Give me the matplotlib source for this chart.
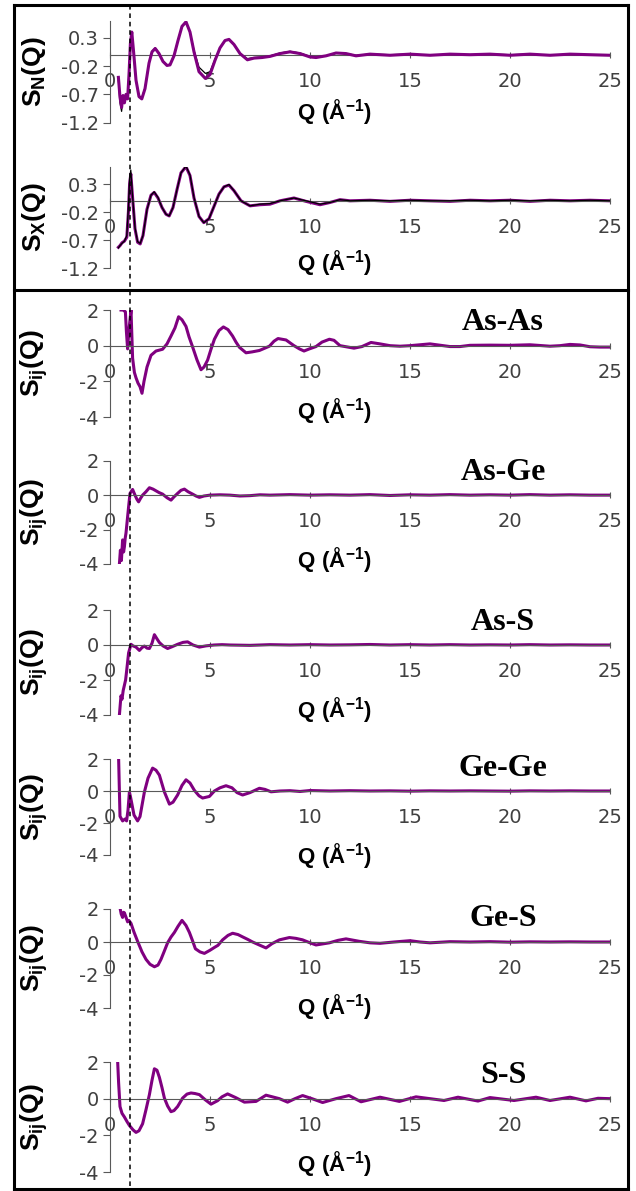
import matplotlib.pyplot as plt
from matplotlib.lines import Line2D

plt.rcParams['mathtext.fontset'] = 'custom'
plt.rcParams['mathtext.rm'] = 'Liberation Sans'
plt.rcParams['mathtext.bf'] = 'Liberation Sans:bold'

# ---------------- data ----------------
# total structure factors (neutron / x-ray): Q, model (purple), experiment (black)
q_sn = [0.42, 0.5, 0.58, 0.65, 0.72, 0.8, 0.88, 0.95, 1.02, 1.09, 1.18, 1.3, 1.45, 1.59, 1.75,
        1.95, 2.1, 2.26, 2.45, 2.65, 2.85, 3.0, 3.2, 3.4, 3.6, 3.8, 4.0, 4.2, 4.45, 4.77, 5.0,
        5.25, 5.5, 5.75, 5.95, 6.2, 6.5, 6.87, 7.2, 7.6, 8.0, 8.5, 9.0, 9.5, 10.0, 10.3, 10.8,
        11.3, 11.8, 12.3, 13.0, 14.0, 15.0, 16.0, 17.0, 18.0, 19.0, 20.0, 21.0, 22.0, 23.0, 24.0, 25.0]
sn_model = [-0.40, -0.75, -0.93, -0.72, -0.85, -0.70, -0.78, -0.35, 0.20, 0.40, 0.05, -0.45, -0.74,
            -0.78, -0.60, -0.15, 0.05, 0.11, 0.02, -0.12, -0.19, -0.18, -0.02, 0.25, 0.50, 0.58, 0.40,
            0.05, -0.30, -0.42, -0.35, -0.10, 0.12, 0.25, 0.27, 0.18, 0.02, -0.09, -0.06, -0.05, -0.03,
            0.02, 0.05, 0.02, -0.04, -0.05, -0.02, 0.03, 0.02, -0.02, 0.01, -0.01, 0.01, -0.01, 0.01,
            0.0, 0.01, -0.01, 0.01, -0.01, 0.01, 0.0, -0.01]
sn_exp = [-0.45, -0.85, -1.0, -0.78, -0.82, -0.72, -0.74, -0.30, 0.22, 0.36, 0.02, -0.45, -0.72,
          -0.76, -0.58, -0.14, 0.06, 0.12, 0.03, -0.11, -0.18, -0.17, -0.01, 0.26, 0.50, 0.57, 0.40,
          0.08, -0.22, -0.33, -0.30, -0.08, 0.12, 0.25, 0.27, 0.18, 0.02, -0.07, -0.05, -0.04, -0.02,
          0.03, 0.06, 0.03, -0.03, -0.04, -0.02, 0.03, 0.02, -0.01, 0.01, 0.0, 0.01, -0.01, 0.01,
          0.0, 0.01, 0.0, 0.01, -0.01, 0.01, 0.0, -0.01]

q_sx = [0.42, 0.5, 0.6, 0.72, 0.84, 0.92, 0.98, 1.04, 1.12, 1.25, 1.38, 1.51, 1.65, 1.85, 2.05,
        2.21, 2.4, 2.6, 2.8, 2.96, 3.15, 3.35, 3.55, 3.8, 4.0, 4.2, 4.45, 4.69, 4.95, 5.2, 5.45,
        5.7, 5.95, 6.2, 6.55, 7.0, 7.5, 8.0, 8.5, 9.2, 9.8, 10.5, 11.0, 11.5, 12.0, 13.0, 14.0,
        15.0, 16.0, 17.0, 18.0, 19.0, 20.0, 21.0, 22.0, 23.0, 24.0, 25.0]
sx_model = [-0.83, -0.80, -0.75, -0.72, -0.65, -0.20, 0.30, 0.48, 0.10, -0.50, -0.74, -0.77, -0.62,
            -0.15, 0.10, 0.15, 0.05, -0.12, -0.24, -0.27, -0.12, 0.20, 0.50, 0.61, 0.45, 0.05,
            -0.28, -0.39, -0.32, -0.10, 0.12, 0.25, 0.28, 0.18, 0.0, -0.09, -0.07, -0.06, 0.0, 0.05,
            -0.01, -0.07, -0.03, 0.02, 0.0, 0.01, -0.01, 0.01, 0.0, -0.01, 0.01, 0.0, 0.01, -0.01,
            0.01, 0.0, 0.01, 0.0]
sx_exp = [-0.84, -0.80, -0.76, -0.72, -0.62, -0.10, 0.40, 0.55, 0.12, -0.48, -0.73, -0.76, -0.62,
          -0.16, 0.10, 0.16, 0.06, -0.12, -0.24, -0.27, -0.12, 0.20, 0.50, 0.62, 0.46, 0.06,
          -0.28, -0.39, -0.32, -0.10, 0.12, 0.25, 0.29, 0.18, 0.0, -0.09, -0.06, -0.05, 0.0, 0.05,
          0.0, -0.06, -0.03, 0.02, 0.0, 0.01, 0.0, 0.01, 0.0, 0.0, 0.01, 0.0, 0.01, 0.0,
          0.01, 0.0, 0.01, 0.0]

# partial structure factors
q_asas = [0.55, 0.65, 0.77, 0.82, 0.88, 0.95, 1.05, 1.13, 1.22, 1.3, 1.4, 1.5, 1.6, 1.7, 1.85,
          2.05, 2.3, 2.63, 2.85, 3.05, 3.25, 3.43, 3.6, 3.8, 3.95, 4.13, 4.35, 4.55, 4.7, 4.88,
          5.05, 5.22, 5.45, 5.67, 5.9, 6.13, 6.3, 6.47, 6.8, 7.1, 7.47, 7.97, 8.2, 8.4, 8.8, 9.2,
          9.47, 9.7, 9.97, 10.3, 10.6, 10.97, 11.2, 11.5, 12.2, 12.6, 13.05, 13.5, 14.0, 14.5,
          15.0, 16.0, 17.0, 17.5, 18.0, 19.0, 20.0, 21.0, 22.0, 22.5, 23.0, 23.5, 24.0, 24.5, 25.0]
s_asas = [2.0, 2.0, 1.9, 0.8, -0.18, 0.9, 2.0, -0.7, -1.5, -1.8, -2.1, -2.3, -2.67, -2.0, -1.2,
          -0.54, -0.3, -0.2, 0.1, 0.54, 1.0, 1.62, 1.45, 1.08, 0.5, -0.07, -0.8, -1.35, -1.2, -0.81,
          -0.2, 0.36, 0.85, 1.05, 0.9, 0.54, 0.2, -0.09, -0.4, -0.35, -0.27, -0.03, 0.25, 0.40, 0.32,
          0.0, -0.18, -0.3, -0.18, -0.05, 0.2, 0.36, 0.3, 0.0, -0.14, -0.05, 0.18, 0.1, 0.0, -0.03,
          0.0, 0.1, -0.05, -0.05, 0.02, 0.03, 0.02, 0.05, -0.03, 0.0, 0.07, 0.04, -0.06, -0.08, -0.08]

q_asge = [0.47, 0.52, 0.57, 0.63, 0.68, 0.72, 0.76, 0.8, 0.86, 0.93, 1.0, 1.13, 1.25, 1.35, 1.43,
          1.52, 1.63, 1.8, 1.97, 2.15, 2.3, 2.45, 2.63, 2.85, 3.05, 3.2, 3.38, 3.55, 3.72, 3.9,
          4.13, 4.3, 4.47, 4.7, 5.0, 5.5, 6.0, 6.5, 7.0, 7.5, 8.0, 9.0, 10.0, 11.0, 12.0, 13.0,
          14.0, 15.0, 16.0, 17.0, 18.0, 19.0, 20.0, 21.0, 22.0, 23.0, 24.0, 25.0]
s_asge = [-4.0, -3.2, -3.8, -2.6, -3.3, -3.0, -2.5, -2.2, -1.5, -0.68, 0.1, 0.33, 0.0, -0.25,
          -0.39, -0.2, 0.0, 0.2, 0.43, 0.35, 0.25, 0.15, 0.06, -0.15, -0.29, -0.1, 0.1, 0.28, 0.35,
          0.2, 0.06, -0.05, -0.13, -0.05, 0.0, 0.02, 0.0, -0.05, -0.03, 0.02, 0.0, 0.03, 0.0, 0.02,
          0.0, 0.03, -0.02, 0.02, 0.0, 0.03, 0.0, 0.02, 0.0, 0.03, 0.0, 0.02, 0.0, 0.0]

q_ass = [0.47, 0.52, 0.55, 0.6, 0.66, 0.72, 0.78, 0.83, 0.93, 1.05, 1.15, 1.3, 1.47, 1.6, 1.72,
         1.85, 1.97, 2.1, 2.22, 2.35, 2.47, 2.65, 2.88, 3.1, 3.38, 3.65, 3.88, 4.15, 4.47, 4.8,
         5.2, 5.6, 6.0, 7.0, 8.0, 9.0, 10.0, 11.0, 12.0, 13.0, 14.0, 15.0, 16.0, 17.0, 18.0, 19.0,
         20.0, 21.0, 22.0, 23.0, 24.0, 25.0]
s_ass = [-4.0, -3.3, -2.9, -3.1, -2.6, -2.3, -2.0, -1.5, -0.45, 0.04, -0.05, -0.12, -0.31, -0.15,
         -0.06, -0.18, -0.2, 0.1, 0.59, 0.35, 0.14, -0.05, -0.2, -0.1, 0.04, 0.15, 0.18, 0.0,
         -0.12, -0.05, 0.0, 0.02, 0.0, -0.02, 0.02, 0.0, 0.02, 0.0, 0.01, 0.03, 0.0, 0.02, 0.0,
         0.02, 0.0, 0.01, 0.0, 0.02, 0.0, 0.01, 0.0, 0.0]

q_gege = [0.43, 0.46, 0.5, 0.63, 0.75, 0.83, 0.9, 0.97, 1.03, 1.08, 1.2, 1.38, 1.5, 1.72, 1.9,
          2.13, 2.3, 2.47, 2.72, 2.97, 3.15, 3.38, 3.6, 3.8, 4.0, 4.22, 4.45, 4.63, 4.97, 5.22,
          5.5, 5.8, 6.1, 6.35, 6.63, 7.0, 7.47, 7.75, 8.05, 8.5, 9.0, 9.5, 10.0, 11.0, 12.0, 13.0,
          14.0, 15.0, 16.0, 17.0, 18.0, 19.0, 20.0, 21.0, 22.0, 23.0, 24.0, 25.0]
s_gege = [2.1, 0.5, -1.58, -1.87, -1.75, -1.87, -1.2, -0.06, -0.4, -0.72, -1.5, -1.87, -1.6,
          -0.06, 0.8, 1.43, 1.3, 0.99, -0.06, -0.82, -0.7, -0.25, 0.35, 0.7, 0.5, 0.04, -0.3, -0.44,
          -0.34, 0.0, 0.2, 0.33, 0.2, -0.1, -0.25, -0.1, 0.17, 0.1, -0.05, 0.0, 0.02, -0.03, 0.03,
          0.0, 0.02, 0.0, 0.01, -0.01, 0.01, 0.0, 0.01, 0.0, -0.01, 0.01, 0.0, 0.01, 0.0, 0.0]

q_ges = [0.5, 0.56, 0.63, 0.68, 0.72, 0.8, 0.88, 0.95, 1.05, 1.2, 1.38, 1.6, 1.8, 2.0, 2.22, 2.4,
         2.55, 2.7, 2.88, 3.05, 3.22, 3.4, 3.6, 3.8, 3.97, 4.12, 4.27, 4.5, 4.72, 5.0, 5.22, 5.4,
         5.63, 5.9, 6.13, 6.4, 6.63, 6.9, 7.13, 7.5, 7.8, 8.1, 8.47, 8.97, 9.3, 9.63, 10.0, 10.3,
         10.97, 11.4, 11.8, 12.47, 13.0, 13.5, 14.2, 15.0, 15.5, 16.0, 17.0, 18.0, 19.0, 20.0,
         21.0, 22.0, 23.0, 24.0, 25.0]
s_ges = [2.07, 1.7, 1.49, 1.8, 1.77, 1.5, 1.22, 1.3, 1.13, 0.6, 0.04, -0.6, -1.05, -1.35, -1.5,
         -1.4, -1.05, -0.6, -0.05, 0.3, 0.58, 0.95, 1.31, 1.0, 0.58, 0.1, -0.41, -0.6, -0.69, -0.5,
         -0.33, -0.2, 0.13, 0.4, 0.53, 0.45, 0.31, 0.15, 0.0, -0.2, -0.36, -0.1, 0.13, 0.27, 0.22,
         0.13, -0.05, -0.18, -0.05, 0.1, 0.19, 0.04, -0.05, -0.08, 0.0, 0.08, 0.0, -0.05, 0.02,
         0.0, 0.02, -0.01, 0.01, 0.0, 0.01, 0.0, 0.0]

q_ss = [0.38, 0.43, 0.5, 0.6, 0.72, 0.85, 0.97, 1.15, 1.3, 1.45, 1.63, 1.8, 1.97, 2.1, 2.22, 2.35,
        2.47, 2.6, 2.72, 2.88, 3.05, 3.2, 3.38, 3.63, 3.85, 4.05, 4.25, 4.47, 4.75, 5.05, 5.38,
        5.6, 5.88, 6.3, 6.72, 7.3, 7.8, 8.47, 8.88, 9.25, 9.63, 10.1, 10.63, 11.3, 11.95, 12.55,
        13.5, 14.47, 15.3, 16.0, 16.7, 17.4, 18.4, 19.0, 20.2, 21.3, 22.0, 23.0, 23.8, 24.4, 25.0]
s_ss = [2.1, 0.88, -0.43, -0.8, -1.0, -1.25, -1.46, -1.7, -1.84, -1.75, -1.37, -0.6, 0.22, 1.0,
        1.63, 1.55, 1.16, 0.6, 0.03, -0.4, -0.71, -0.65, -0.43, 0.03, 0.25, 0.31, 0.28, 0.22,
        -0.05, -0.3, -0.11, 0.1, 0.26, 0.05, -0.19, -0.15, 0.19, 0.0, -0.19, 0.0, 0.17, 0.0, -0.21,
        0.0, 0.17, -0.17, 0.08, -0.15, 0.1, 0.0, -0.1, 0.08, -0.13, 0.06, -0.1, 0.08, -0.1, 0.08,
        -0.12, 0.02, 0.0]

pair_names = ['As-As', 'As-Ge', 'As-S', 'Ge-Ge', 'Ge-S', 'S-S']
pair_q = [q_asas, q_asge, q_ass, q_gege, q_ges, q_ss]
pair_s = [s_asas, s_asge, s_ass, s_gege, s_ges, s_ss]

# ---------------- layout (pixels) ----------------
W, H = 636, 1191
X0, X1 = 110, 610              # Q = 0 .. 25
top_boxes = [(20.7, 122.7), (167.2, 268)]
pair_boxes = [(310, 417), (460.7, 564), (610, 715), (759, 855), (909, 1008), (1062, 1172)]
PURPLE = '#800080'
GRAY = '#595959'


def fx(x):
    return x / W


def fy(y):
    return 1 - y / H


def make_axes(fig, top, bottom, ylim, yticks, yfmt):
    ax = fig.add_axes([fx(X0), fy(bottom), (X1 - X0) / W, (bottom - top) / H])
    ax.set_xlim(0, 25)
    ax.set_ylim(*ylim)
    ax.patch.set_visible(False)
    for s in ['top', 'right']:
        ax.spines[s].set_visible(False)
    ax.spines['left'].set_color(GRAY)
    ax.spines['bottom'].set_color(GRAY)
    ax.spines['bottom'].set_position(('data', 0))
    ax.set_xticks([0, 5, 10, 15, 20, 25])
    ax.set_yticks(yticks)
    ax.set_yticklabels([yfmt(v) for v in yticks])
    ax.tick_params(axis='x', direction='inout', length=5, width=0.8, color=GRAY, pad=10,
                   labelsize=14, labelcolor='#404040')
    ax.tick_params(axis='y', direction='out', length=5, width=0.8, color=GRAY, pad=3,
                   labelsize=14, labelcolor='#404040')
    return ax


def add_labels(fig, top, bottom, ylabel):
    zc = (top + bottom) / 2
    fig.text(fx(34), fy(zc), ylabel, rotation=90, ha='center', va='center', fontsize=19)


fig = plt.figure(figsize=(W / 100, H / 100), dpi=100)

# total S(Q)
tot_labels = [r'$\mathbf{S_{N}(Q)}$', r'$\mathbf{S_{X}(Q)}$']
tot_q = [q_sn, q_sx]
tot_model = [sn_model, sx_model]
tot_exp = [sn_exp, sx_exp]
for i in range(2):
    top, bottom = top_boxes[i]
    ax = make_axes(fig, top, bottom, (-1.2, 0.6), [-1.2, -0.7, -0.2, 0.3], lambda v: '%.1f' % v)
    if i == 0:
        ax.plot(tot_q[i], tot_exp[i], color='black', lw=0.9, zorder=2)
        ax.plot(tot_q[i], tot_model[i], color=PURPLE, lw=2.2, zorder=3)
    else:
        ax.plot(tot_q[i], tot_model[i], color=PURPLE, lw=2.2, zorder=2)
        ax.plot(tot_q[i], tot_exp[i], color='black', lw=0.9, zorder=3)
    add_labels(fig, top, bottom, tot_labels[i])
    zero = top + (bottom - top) * 0.6 / 1.8
    fig.text(fx(334), fy(zero + 57 + 5 * i), r'$\mathbf{Q\ (Å^{-1})}$', ha='center', va='center',
             fontsize=16)

# partial S_ij(Q)
for i in range(6):
    top, bottom = pair_boxes[i]
    ax = make_axes(fig, top, bottom, (-4, 2), [-4, -2, 0, 2], lambda v: '%d' % v)
    ax.plot(pair_q[i], pair_s[i], color=PURPLE, lw=2.2)
    add_labels(fig, top, bottom, r'$\mathbf{S_{ij}(Q)}$')
    zero = top + (bottom - top) / 3
    fig.text(fx(334), fy(zero + 65), r'$\mathbf{Q\ (Å^{-1})}$', ha='center', va='center',
             fontsize=16)
    fig.text(fx(503), fy(zero - 23), pair_names[i], ha='center', va='center', fontsize=23,
             fontweight='bold', family='Liberation Serif')

# frames and dashed marker line
frame = [((14, 5), (628, 5)), ((14, 290), (628, 290)), ((14, 1189), (628, 1189)),
         ((14, 5), (14, 1191)), ((628, 5), (628, 1191))]
for (xa, ya), (xb, yb) in frame:
    fig.add_artist(Line2D([fx(xa), fx(xb)], [fy(ya), fy(yb)], color='black', lw=2.2))
fig.add_artist(Line2D([fx(130), fx(130)], [fy(5), fy(1191)], color='black', lw=1.1,
                      linestyle=(0, (3, 2.5))))

fig.savefig('out.png', dpi=100)
